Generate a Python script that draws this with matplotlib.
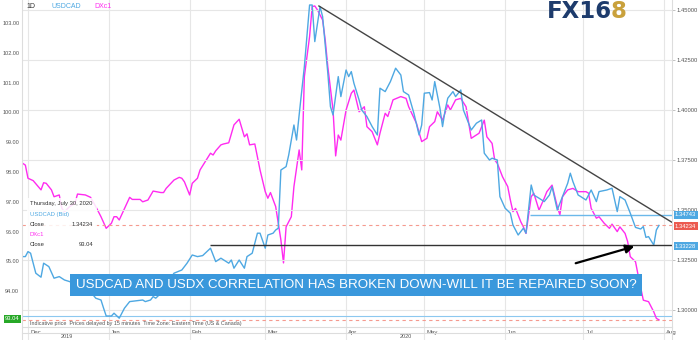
import pandas as pd
import matplotlib.pyplot as plt
from matplotlib.lines import Line2D
from matplotlib.patches import Rectangle

plt.rcParams['font.family'] = ['Liberation Sans', 'DejaVu Sans']

# DXc1 (US dollar index future), daily closes
dx_dates = ["2019-11-29", "2019-11-30", "2019-12-01", "2019-12-03", "2019-12-06", "2019-12-07", "2019-12-08",
            "2019-12-10", "2019-12-11", "2019-12-13", "2019-12-14", "2019-12-15", "2019-12-17", "2019-12-19",
            "2019-12-20", "2019-12-23", "2019-12-25", "2019-12-27", "2019-12-29", "2019-12-31", "2020-01-02",
            "2020-01-03", "2020-01-04", "2020-01-05", "2020-01-09", "2020-01-10", "2020-01-13", "2020-01-14",
            "2020-01-16", "2020-01-18", "2020-01-21", "2020-01-22", "2020-01-23", "2020-01-26", "2020-01-28",
            "2020-01-29", "2020-01-30", "2020-02-01", "2020-02-02", "2020-02-04", "2020-02-05", "2020-02-09",
            "2020-02-10", "2020-02-11", "2020-02-13", "2020-02-14", "2020-02-16", "2020-02-18", "2020-02-20",
            "2020-02-22", "2020-02-23", "2020-02-24", "2020-02-26", "2020-02-28", "2020-03-01", "2020-03-02",
            "2020-03-03", "2020-03-05", "2020-03-07", "2020-03-08", "2020-03-09", "2020-03-11", "2020-03-12",
            "2020-03-14", "2020-03-15", "2020-03-16", "2020-03-18", "2020-03-19", "2020-03-20", "2020-03-21",
            "2020-03-23", "2020-03-24", "2020-03-25", "2020-03-27", "2020-03-28", "2020-03-29", "2020-03-30",
            "2020-04-01", "2020-04-03", "2020-04-04", "2020-04-06", "2020-04-08", "2020-04-09", "2020-04-11",
            "2020-04-13", "2020-04-14", "2020-04-16", "2020-04-17", "2020-04-19", "2020-04-22", "2020-04-24",
            "2020-04-25", "2020-04-28", "2020-04-30", "2020-05-02", "2020-05-03", "2020-05-05", "2020-05-06",
            "2020-05-08", "2020-05-10", "2020-05-11", "2020-05-13", "2020-05-15", "2020-05-17", "2020-05-19",
            "2020-05-22", "2020-05-24", "2020-05-25", "2020-05-27", "2020-05-28", "2020-05-29", "2020-05-31",
            "2020-06-02", "2020-06-03", "2020-06-04", "2020-06-05", "2020-06-07", "2020-06-08", "2020-06-09",
            "2020-06-11", "2020-06-12", "2020-06-14", "2020-06-16", "2020-06-17", "2020-06-19", "2020-06-21",
            "2020-06-22", "2020-06-23", "2020-06-25", "2020-06-27", "2020-06-29", "2020-07-02", "2020-07-03",
            "2020-07-04", "2020-07-06", "2020-07-07", "2020-07-09", "2020-07-11", "2020-07-12", "2020-07-14",
            "2020-07-15", "2020-07-17", "2020-07-18", "2020-07-19", "2020-07-21", "2020-07-22", "2020-07-24",
            "2020-07-26", "2020-07-28", "2020-07-29", "2020-07-30"]
dx_close = [98.29, 98.23, 97.79, 97.71, 97.40, 97.64, 97.62, 97.40, 97.17, 97.23, 96.78, 96.67, 96.84, 96.95,
            97.26, 97.23, 97.15, 96.84, 96.50, 96.11, 96.28, 96.50, 96.50, 96.39, 97.15, 97.08, 97.08, 97.00,
            97.06, 97.36, 97.31, 97.31, 97.45, 97.73, 97.82, 97.79, 97.67, 97.23, 97.62, 97.79, 98.07, 98.63,
            98.57, 98.71, 98.91, 98.94, 98.98, 99.58, 99.77, 99.18, 99.28, 98.91, 98.94, 98.07, 97.34, 97.12,
            97.31, 96.84, 95.72, 94.95, 96.16, 96.50, 97.51, 98.74, 98.07, 101.20, 102.54, 103.55, 103.57, 103.44,
            103.10, 102.43, 101.53, 100.08, 98.54, 99.24, 99.07, 100.08, 100.64, 100.75, 100.02, 100.19, 99.52,
            99.35, 98.91, 99.30, 99.97, 99.86, 100.42, 100.53, 100.47, 100.19, 99.63, 99.02, 99.13, 99.52, 99.69,
            100.02, 99.74, 100.25, 100.08, 100.42, 100.47, 100.19, 99.13, 99.30, 99.74, 99.18, 98.96, 98.40,
            98.29, 97.84, 97.51, 97.06, 96.67, 96.78, 96.33, 96.16, 95.94, 97.17, 97.29, 96.72, 97.12, 97.34,
            97.56, 96.84, 96.56, 97.17, 97.40, 97.45, 97.34, 97.34, 97.29, 96.78, 96.45, 96.50, 96.28, 96.11,
            96.25, 96.00, 96.16, 95.94, 95.66, 95.16, 94.99, 94.54, 93.70, 93.65, 93.31, 93.09, 93.04]

# USDCAD bid closes
cad_dates = ["2019-11-29", "2019-11-30", "2019-12-01", "2019-12-02", "2019-12-04", "2019-12-06", "2019-12-07",
             "2019-12-09", "2019-12-11", "2019-12-13", "2019-12-15", "2019-12-17", "2019-12-19", "2019-12-23",
             "2019-12-26", "2019-12-27", "2019-12-29", "2019-12-30", "2019-12-31", "2020-01-02", "2020-01-03",
             "2020-01-05", "2020-01-07", "2020-01-09", "2020-01-12", "2020-01-14", "2020-01-15", "2020-01-17",
             "2020-01-18", "2020-01-19", "2020-01-21", "2020-01-23", "2020-01-26", "2020-01-29", "2020-01-31",
             "2020-02-02", "2020-02-04", "2020-02-06", "2020-02-09", "2020-02-11", "2020-02-13", "2020-02-16",
             "2020-02-17", "2020-02-18", "2020-02-20", "2020-02-22", "2020-02-23", "2020-02-25", "2020-02-27",
             "2020-02-28", "2020-03-01", "2020-03-02", "2020-03-04", "2020-03-05", "2020-03-06", "2020-03-07",
             "2020-03-09", "2020-03-10", "2020-03-12", "2020-03-13", "2020-03-14", "2020-03-16", "2020-03-18",
             "2020-03-19", "2020-03-20", "2020-03-22", "2020-03-23", "2020-03-25", "2020-03-26", "2020-03-27",
             "2020-03-29", "2020-03-30", "2020-04-01", "2020-04-02", "2020-04-03", "2020-04-04", "2020-04-06",
             "2020-04-07", "2020-04-09", "2020-04-11", "2020-04-13", "2020-04-14", "2020-04-16", "2020-04-18",
             "2020-04-20", "2020-04-22", "2020-04-23", "2020-04-25", "2020-04-27", "2020-04-29", "2020-04-30",
             "2020-05-01", "2020-05-03", "2020-05-04", "2020-05-05", "2020-05-07", "2020-05-08", "2020-05-09",
             "2020-05-10", "2020-05-12", "2020-05-13", "2020-05-15", "2020-05-16", "2020-05-18", "2020-05-19",
             "2020-05-21", "2020-05-23", "2020-05-24", "2020-05-26", "2020-05-27", "2020-05-29", "2020-05-30",
             "2020-06-01", "2020-06-03", "2020-06-04", "2020-06-06", "2020-06-08", "2020-06-09", "2020-06-11",
             "2020-06-12", "2020-06-14", "2020-06-16", "2020-06-18", "2020-06-19", "2020-06-21", "2020-06-23",
             "2020-06-25", "2020-06-26", "2020-06-27", "2020-06-29", "2020-06-30", "2020-07-02", "2020-07-04",
             "2020-07-06", "2020-07-07", "2020-07-10", "2020-07-12", "2020-07-14", "2020-07-15", "2020-07-17",
             "2020-07-19", "2020-07-21", "2020-07-23", "2020-07-24", "2020-07-25", "2020-07-26", "2020-07-28",
             "2020-07-29", "2020-07-30"]
cad_close = [1.3267, 1.3267, 1.3292, 1.3284, 1.3184, 1.3164, 1.3234, 1.3217, 1.3159, 1.3167, 1.3150, 1.3142,
             1.3125, 1.3100, 1.3075, 1.3059, 1.3050, 1.3009, 1.2970, 1.2970, 1.2984, 1.2959, 1.3009, 1.3042,
             1.3047, 1.3050, 1.3042, 1.3050, 1.3067, 1.3059, 1.3084, 1.3125, 1.3184, 1.3200, 1.3234, 1.3275,
             1.3267, 1.3272, 1.3309, 1.3242, 1.3259, 1.3234, 1.3250, 1.3209, 1.3250, 1.3209, 1.3267, 1.3284,
             1.3384, 1.3384, 1.3309, 1.3375, 1.3384, 1.3400, 1.3409, 1.3700, 1.3717, 1.3775, 1.3925, 1.3850,
             1.3975, 1.4217, 1.4525, 1.4525, 1.4342, 1.4517, 1.4467, 1.4184, 1.4017, 1.3975, 1.4167, 1.4067,
             1.4200, 1.4167, 1.4192, 1.4134, 1.4050, 1.4000, 1.3967, 1.3917, 1.3875, 1.4109, 1.4092, 1.4142,
             1.4209, 1.4175, 1.4092, 1.4075, 1.3984, 1.3875, 1.3925, 1.4084, 1.4087, 1.4050, 1.4142, 1.4009,
             1.3917, 1.4000, 1.4059, 1.4092, 1.4067, 1.4100, 1.4000, 1.3934, 1.3900, 1.3934, 1.3950, 1.3784,
             1.3750, 1.3759, 1.3750, 1.3567, 1.3509, 1.3484, 1.3425, 1.3375, 1.3409, 1.3384, 1.3625, 1.3575,
             1.3559, 1.3542, 1.3575, 1.3617, 1.3500, 1.3567, 1.3634, 1.3684, 1.3642, 1.3575, 1.3567, 1.3550,
             1.3600, 1.3542, 1.3592, 1.3600, 1.3609, 1.3492, 1.3567, 1.3550, 1.3484, 1.3413, 1.3405, 1.3417,
             1.3363, 1.3367, 1.3325, 1.3400, 1.3423]

dx_ticks = [94, 95, 96, 97, 98, 99, 100, 101, 102, 103]
cad_ticks = [1.300, 1.325, 1.350, 1.375, 1.400, 1.425, 1.450]
month_names = ["Dec", "Jan", "Feb", "Mar", "Apr", "May", "Jun", "Jul", "Aug"]

# user drawn levels / lines
resist_level = 1.34743
last_cad = 1.34234
support_level = 1.33228
last_dx = 93.04
dx_line = 93.17
trend_x = ["2020-03-21 14:00", "2020-08-04 10:00"]
trend_y = [1.452, 1.3435]
arrow_from = ("2020-06-27 01:00", 1.3230)
arrow_to = ("2020-07-21 14:00", 1.3322)

blue = '#4ea8e2'
magenta = '#ff2bf0'
W, H = 700, 340

fig = plt.figure(figsize=(7, 3.4), dpi=100)
ax = fig.add_axes([22 / W, 1 - 327 / H, 650 / W, 327 / H])
ax2 = ax.twinx()

x0 = pd.Timestamp("2019-11-28 17:00")
x1 = pd.Timestamp("2020-08-04 00:00")
ax.set_xlim(x0, x1)
ax.set_ylim(92.80, 103.77)
ax2.set_ylim(1.2915, 1.455)

ax.plot(pd.to_datetime(dx_dates), dx_close, color=magenta, lw=1.0, zorder=3)
ax2.plot(pd.to_datetime(cad_dates), cad_close, color=blue, lw=1.0, zorder=3)

# grid
for t in cad_ticks:
    ax2.axhline(t, color='#e6e6e6', lw=0.8, zorder=0)
months = pd.date_range("2019-12-01", "2020-08-01", freq="MS")
for m in months:
    ax.axvline(m, ymin=-0.04, ymax=1, color='#e6e6e6', lw=0.8, clip_on=False, zorder=0)

# price lines
ax2.axhline(last_cad, color='#f59a8f', lw=0.8, ls=(0, (3, 3)), zorder=2)
ax2.hlines(resist_level, pd.Timestamp("2020-06-10 14:00"), x1, color='#6bb8ea', lw=1.0, zorder=2)
ax2.hlines(support_level, pd.Timestamp("2020-02-08 19:00"), x1, color='#333333', lw=1.0, zorder=4)
ax.axhline(dx_line, color='#8cc8ef', lw=0.8, zorder=2)
ax.axhline(last_dx, color='#f59a8f', lw=0.8, ls=(0, (3, 3)), zorder=2)
ax2.plot(pd.to_datetime(trend_x), trend_y, color='#444444', lw=1.0, zorder=4)
ax2.annotate("", xy=(pd.Timestamp(arrow_to[0]), arrow_to[1]),
             xytext=(pd.Timestamp(arrow_from[0]), arrow_from[1]),
             arrowprops=dict(arrowstyle='-|>,head_length=0.5,head_width=0.25', color='black', lw=1.6),
             zorder=5)

# axes styling
for a in (ax, ax2):
    for s in a.spines.values():
        s.set_visible(False)
ax.set_xticks([])
ax.set_yticks(dx_ticks)
ax.set_yticklabels([f"{t:.2f}" for t in dx_ticks])
ax.tick_params(axis='y', length=0, pad=2, labelsize=4, labelcolor='#555555')
ax2.set_yticks(cad_ticks)
ax2.set_yticklabels([f"{t:.5f}" for t in cad_ticks])
ax2.tick_params(axis='y', length=2, width=0.5, color='#aaaaaa', pad=1.5, labelsize=4.2, labelcolor='#555555')

fig.add_artist(Line2D([22 / W, 22 / W], [0, 1], color='#dddddd', lw=0.8))
fig.add_artist(Line2D([672 / W, 672 / W], [0, 1], color='#dddddd', lw=0.8))
fig.add_artist(Line2D([22 / W, 672 / W], [1 - 327 / H, 1 - 327 / H], color='#dddddd', lw=0.8))
fig.add_artist(Line2D([22 / W, 672 / W], [1 - 333 / H, 1 - 333 / H], color='#dddddd', lw=0.8))

# month and year labels
for m, name in zip(months, month_names):
    ax.text(m + pd.Timedelta(days=0.8), -0.01, name, transform=ax.get_xaxis_transform(),
            ha='left', va='top', fontsize=4.3, color='#555555', clip_on=False)
fig.text(67 / W, 1 - 336.5 / H, "2019", ha='center', va='center', fontsize=4.0, color='#555555')
fig.text(406 / W, 1 - 336.5 / H, "2020", ha='center', va='center', fontsize=4.0, color='#555555')

# header
fig.text(26 / W, 1 - 6 / H, "1D", fontsize=5, color='#333333', va='center')
fig.text(51 / W, 1 - 6 / H, "USDCAD", fontsize=5, color=blue, va='center')
fig.text(94 / W, 1 - 6 / H, "DXc1", fontsize=5, color=magenta, va='center')
fig.text(30 / W, 1 - 323.5 / H,
         "Indicative price  Prices delayed by 15 minutes  Time Zone: Eastern Time (US & Canada)",
         fontsize=3.9, color='#555555', va='center')

# logo
t1 = fig.text(547 / W, 1 - 12 / H, "FX16", fontsize=16.5, fontweight='heavy', color='#1d3b6c',
              va='center', family='DejaVu Sans')
fig.canvas.draw()
bb = t1.get_window_extent()
fig.text((bb.x1 - 1) / W, 1 - 12 / H, "8", fontsize=16.5, fontweight='heavy', color='#c9a13c',
         va='center', family='DejaVu Sans')

# tooltip
fig.add_artist(Rectangle((27 / W, 1 - 251 / H), 70 / W, 53 / H, transform=fig.transFigure,
                         facecolor='white', alpha=0.85, edgecolor='none', zorder=6))
tip = [("Thursday, July 30, 2020", 203, '#333333'), ("USDCAD (Bid)", 214.5, blue),
       ("Close", 224, '#333333'), ("DXc1", 234.5, magenta), ("Close", 244, '#333333')]
for s, y, c in tip:
    fig.text(30 / W, 1 - y / H, s, fontsize=4.2, color=c, va='center', zorder=7)
fig.text(93 / W, 1 - 224 / H, "1.34234", fontsize=4.2, color='#333333', va='center', ha='right', zorder=7)
fig.text(93 / W, 1 - 244 / H, "93.04", fontsize=4.2, color='#333333', va='center', ha='right', zorder=7)

# value tags
tags = [(f"{resist_level:.5f}", 215, '#4ea8e2'), (f"{last_cad:.5f}", 226, '#ec5a4f'),
        (f"{support_level:.5f}", 246, '#4ea8e2')]
for s, y, c in tags:
    fig.text(675 / W, 1 - y / H, s, fontsize=4.2, color='white', va='center', ha='left',
             bbox=dict(boxstyle='square,pad=0.25', fc=c, ec='none'))
fig.text(5 / W, 1 - 319 / H, f"{last_dx:.2f}", fontsize=4.2, color='white', va='center', ha='left',
         bbox=dict(boxstyle='square,pad=0.25', fc='#27a827', ec='none'))

# headline banner
fig.text(356 / W, 1 - 285 / H, "USDCAD AND USDX CORRELATION HAS BROKEN DOWN-WILL IT BE REPAIRED SOON?",
         fontsize=9.6, color='white', ha='center', va='center', zorder=8,
         bbox=dict(boxstyle='square,pad=0.4', fc='#3a98dc', ec='none'))

fig.savefig("out.png", dpi=100)
